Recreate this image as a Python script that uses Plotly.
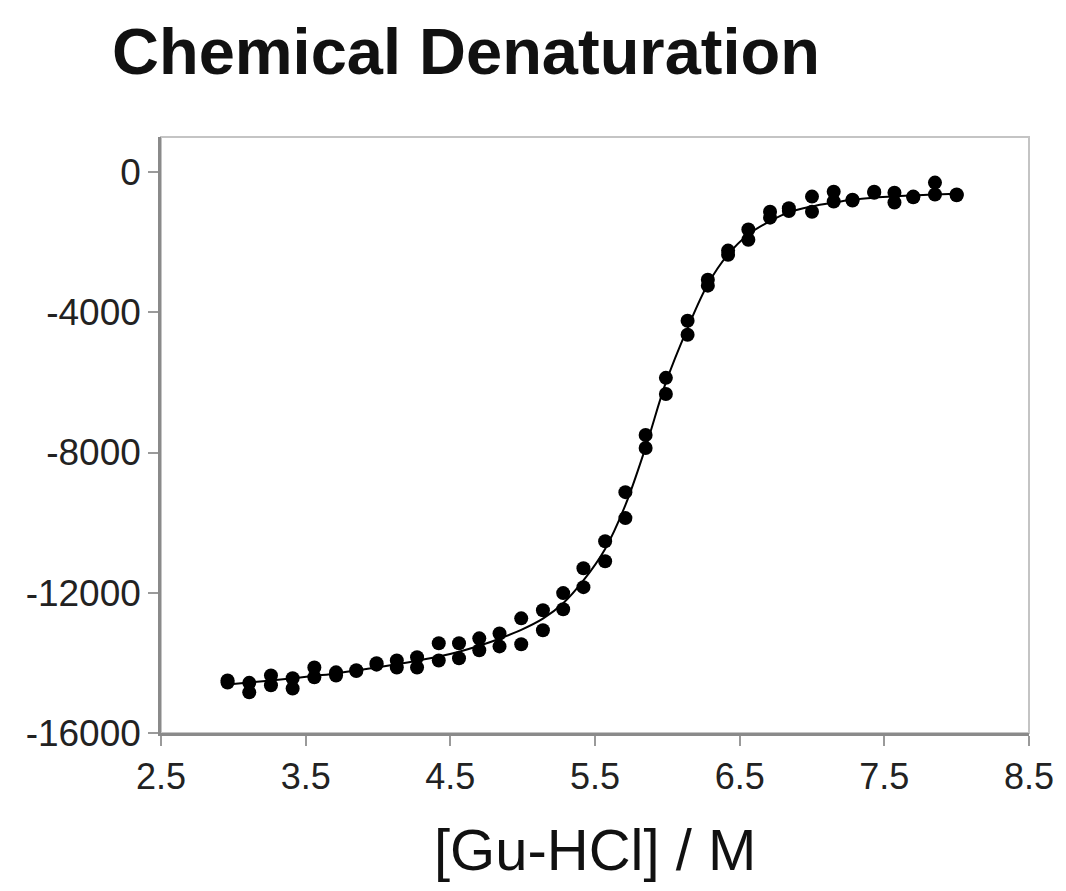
import plotly.graph_objects as go

# ---- data ----
gu_hcl = [2.96, 3.11, 3.26, 3.41, 3.56, 3.71, 3.85, 3.99, 4.13, 4.27, 4.42, 4.56,
          4.70, 4.84, 4.99, 5.14, 5.28, 5.42, 5.57, 5.71, 5.85, 5.99, 6.14, 6.28,
          6.42, 6.56, 6.71, 6.84, 7.00, 7.15, 7.28, 7.43, 7.57, 7.70, 7.85, 8.00]

signal_rep1 = [-14500, -14570, -14360, -14440, -14130, -14270, -14210, -14010, -13930, -13840,
               -13440, -13440, -13300, -13160, -12730, -12500, -12010, -11300, -10530, -9130,
               -7500, -5870, -4240, -3070, -2240, -1640, -1130, -1030, -700, -560,
               -790, -560, -590, -700, -300, -640]

signal_rep2 = [-14560, -14840, -14640, -14730, -14410, -14360, -14230, -14050, -14130, -14130,
               -13930, -13870, -13640, -13530, -13470, -13070, -12470, -11840, -11100, -9870,
               -7870, -6330, -4640, -3240, -2360, -1930, -1300, -1110, -1130, -840,
               -810, -590, -870, -720, -640, -660]

fit_curve = [-14620, -14560, -14500, -14440, -14370, -14300, -14220, -14130, -14040, -13940,
             -13820, -13680, -13510, -13310, -13060, -12740, -12300, -11650, -10750, -9500,
             -7850, -6000, -4450, -3200, -2350, -1780, -1400, -1150, -980, -870,
             -790, -730, -690, -660, -640, -620]

x_tickvals = [2.5, 3.5, 4.5, 5.5, 6.5, 7.5, 8.5]
x_ticktext = ["2.5", "3.5", "4.5", "5.5", "6.5", "7.5", "8.5"]
y_tickvals = [0, -4000, -8000, -12000, -16000]
y_ticktext = ["0", "-4000", "-8000", "-12000", "-16000"]

FONT = "Liberation Sans, Arial, sans-serif"

fig = go.Figure()

fig.add_trace(go.Scatter(
    x=gu_hcl, y=fit_curve, mode="lines", line=dict(color="black", width=2, shape="spline"),
    showlegend=False, hoverinfo="skip"))

fig.add_trace(go.Scatter(
    x=gu_hcl, y=signal_rep1, mode="markers",
    marker=dict(color="black", size=14, symbol="circle"), showlegend=False))
fig.add_trace(go.Scatter(
    x=gu_hcl, y=signal_rep2, mode="markers",
    marker=dict(color="black", size=14, symbol="circle"), showlegend=False))

# plot-area frame (light gray top/right)
fig.add_shape(type="rect", xref="paper", yref="paper", x0=0, x1=1, y0=0, y1=1,
              line=dict(color="#c4c4c4", width=2), layer="below")

fig.update_layout(
    width=1066, height=891,
    margin=dict(l=161, r=32, t=137, b=158),
    paper_bgcolor="white", plot_bgcolor="white",
    font=dict(family=FONT, color="#222222"),
    title=dict(text="<b>Chemical Denaturation</b>", font=dict(family=FONT, size=65, color="#111111"),
               xref="container", yref="container", x=112/1066, xanchor="left",
               y=1 - 28/891, yanchor="top"),
    xaxis=dict(range=[2.5, 8.5], tickvals=x_tickvals, ticktext=x_ticktext,
               showgrid=False, zeroline=False, showline=True, linecolor="#8a8a8a", linewidth=2.5,
               ticks="outside", ticklen=10, tickwidth=2, tickcolor="#9a9a9a",
               tickfont=dict(family=FONT, size=36, color="#222222"), ticklabelstandoff=0),
    yaxis=dict(range=[-16000, 1000], tickvals=y_tickvals, ticktext=y_ticktext,
               showgrid=False, zeroline=False, showline=True, linecolor="#8a8a8a", linewidth=2.5,
               ticks="outside", ticklen=10, tickwidth=2, tickcolor="#9a9a9a",
               tickfont=dict(family=FONT, size=37, color="#222222"), ticklabelstandoff=0),
    annotations=[dict(text="[Gu-HCl] / M", xref="paper", yref="paper", x=0.5, y=-0.196,
                      xanchor="center", yanchor="middle", showarrow=False,
                      font=dict(family=FONT, size=58, color="#111111"))],
)

fig.write_html("out.html")
